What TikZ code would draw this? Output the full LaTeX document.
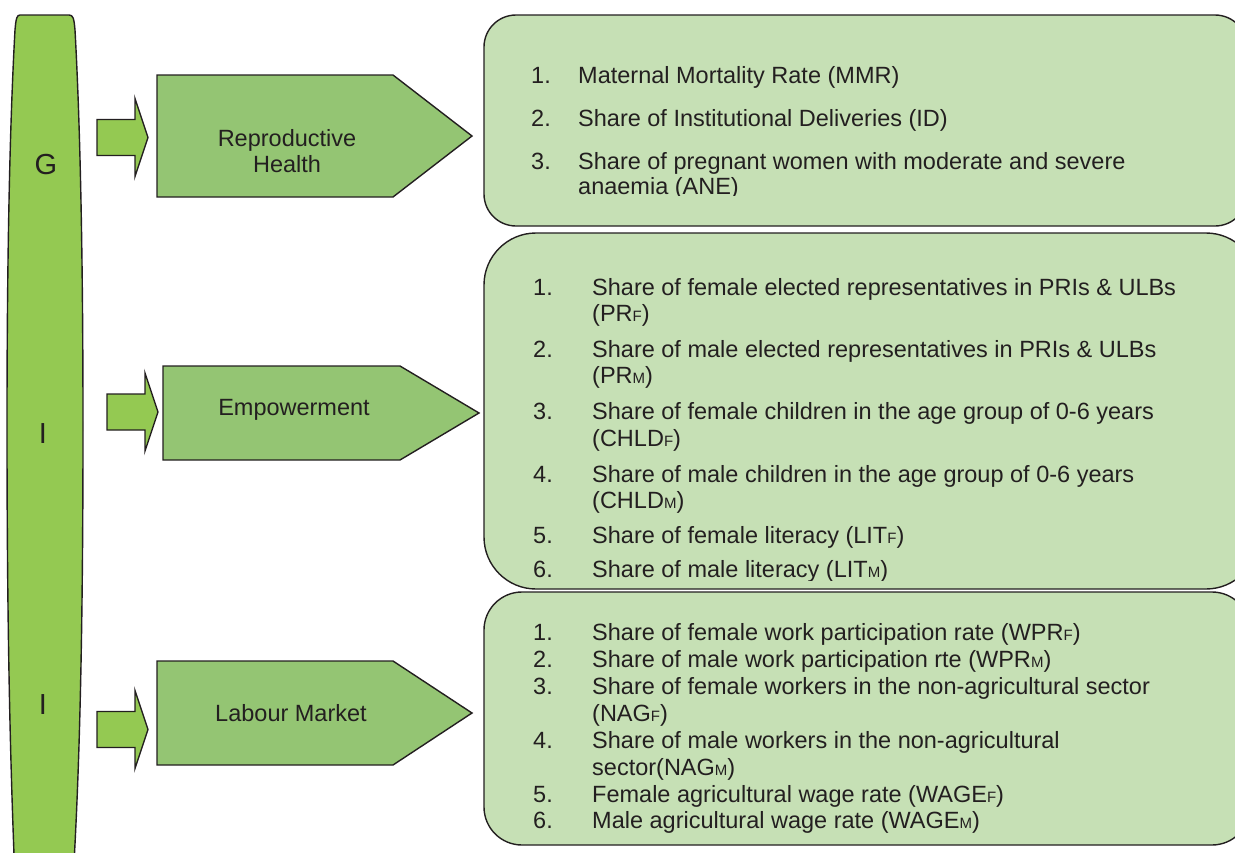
\documentclass[tikz,border=0pt]{standalone}
\usepackage{fontspec}
\setmainfont{Liberation Sans}

\definecolor{barGreen}{RGB}{148,201,82}
\definecolor{tagGreen}{RGB}{148,197,115}
\definecolor{boxGreen}{RGB}{198,224,181}
\definecolor{inkGray}{RGB}{35,31,32}

\newcommand{\lowsub}[1]{{\fontsize{15}{15}\selectfont #1}}
\newcommand{\fatarrow}[2]{%
  \draw[smallarrow] (#1,#2-18) -- ++(38,0) -- ++(0,-21) -- ++(13,39)
    -- ++(-13,39) -- ++(0,-21) -- ++(-38,0) -- cycle;}

\tikzset{
  outline/.style={draw=inkGray, line width=1.4pt, line join=miter},
  smallarrow/.style={outline, fill=barGreen},
  tagshape/.style={outline, fill=tagGreen},
  infobox/.style={outline, fill=boxGreen},
  bartext/.style={text=inkGray, font=\fontsize{29}{29}\selectfont, inner sep=0pt},
  tagtext/.style={text=inkGray, font=\fontsize{23.5}{26}\selectfont, align=center, inner sep=0pt},
  itemtext/.style={text=inkGray, font=\fontsize{23.5}{27}\selectfont, anchor=base west, inner sep=0pt},
  itemnum/.style={itemtext}
}

\begin{document}
\begin{tikzpicture}[x=1pt, y=-1pt]
  \useasboundingbox (0,0) rectangle (1235,852);
  \clip (0,0) rectangle (1235,852);

  % G I I bar
  \draw[outline, fill=barGreen] (20,15) -- (69,15)
    .. controls (73,15) and (74,18) .. (75,30)
    .. controls (80,120) and (83,250) .. (83,426)
    .. controls (83,650) and (79,780) .. (73,880)
    -- (15,880)
    .. controls (11,780) and (7,650) .. (7,426)
    .. controls (7,250) and (10,120) .. (15,30)
    .. controls (16,18) and (17,15) .. (20,15) -- cycle;
  \node[bartext] (g1) at (46,165) {G};
  \node[bartext] (i1) at (43,434) {I};
  \node[bartext] (i2) at (43,705) {I};

  % small arrows
  \fatarrow{97}{137.5}
  \fatarrow{107}{412}
  \fatarrow{97}{729.5}

  % dimensions
  \draw[tagshape] (157,75) -- (393,75) -- (472,136) -- (393,197) -- (157,197) -- cycle;
  \node[tagtext] (rh) at (287,151) {Reproductive\\Health};
  \draw[tagshape] (163,366) -- (400,366) -- (479,413) -- (400,460) -- (163,460) -- cycle;
  \node[tagtext] (emp) at (294,410) {Empowerment};
  \draw[tagshape] (157,661) -- (393,661) -- (472,713) -- (393,765) -- (157,765) -- cycle;
  \node[tagtext] (lab) at (291,713) {Labour Market};

  % indicator boxes
  \draw[infobox, rounded corners=32] (484,15) rectangle (1247,226);
  \draw[infobox, rounded corners=52] (484,233) rectangle (1258,589);
  \draw[infobox, rounded corners=38] (484,592) rectangle (1250,845);

  % reproductive health
  \begin{scope}
    \clip (480,15) rectangle (1235,195);
    \foreach \y [count=\k] in {83,126,169}
      \node[itemnum] (a\k) at (531,\y) {\k.};
    \foreach \y/\t [count=\k] in {83/Maternal Mortality Rate (MMR),
        126/Share of Institutional Deliveries (ID),
        169/Share of pregnant women with moderate and severe,
        194/anaemia (ANE)}
      \node[itemtext] (at\k) at (578,\y) {\t};
  \end{scope}

  % empowerment
  \begin{scope}
    \clip (480,233) rectangle (1235,580);
    \foreach \y [count=\k] in {295,357,419,482,543,577}
      \node[itemnum] (b\k) at (533,\y) {\k.};
    \foreach \y/\t [count=\k] in {295/Share of female elected representatives in PRIs \& ULBs,
        321/(PR\lowsub{F}),
        357/Share of male elected representatives in PRIs \& ULBs,
        383/(PR\lowsub{M}),
        419/Share of female children in the age group of 0-6 years,
        446/(CHLD\lowsub{F}),
        482/Share of male children in the age group of 0-6 years,
        508/(CHLD\lowsub{M}),
        543/Share of female literacy (LIT\lowsub{F}),
        577/Share of male literacy (LIT\lowsub{M})}
      \node[itemtext] (bt\k) at (592,\y) {\t};
  \end{scope}

  % labour market
  \foreach \y [count=\k] in {640,667,694,748,802,828}
    \node[itemnum] (c\k) at (533,\y) {\k.};
  \foreach \y/\t [count=\k] in {640/Share of female work participation rate (WPR\lowsub{F}),
      667/Share of male work participation rte (WPR\lowsub{M}),
      694/Share of female workers in the non-agricultural sector,
      721/(NAG\lowsub{F}),
      748/Share of male workers in the non-agricultural,
      775/sector(NAG\lowsub{M}),
      802/Female agricultural wage rate (WAGE\lowsub{F}),
      828/Male agricultural wage rate (WAGE\lowsub{M})}
    \node[itemtext] (ct\k) at (592,\y) {\t};
\end{tikzpicture}
\end{document}
